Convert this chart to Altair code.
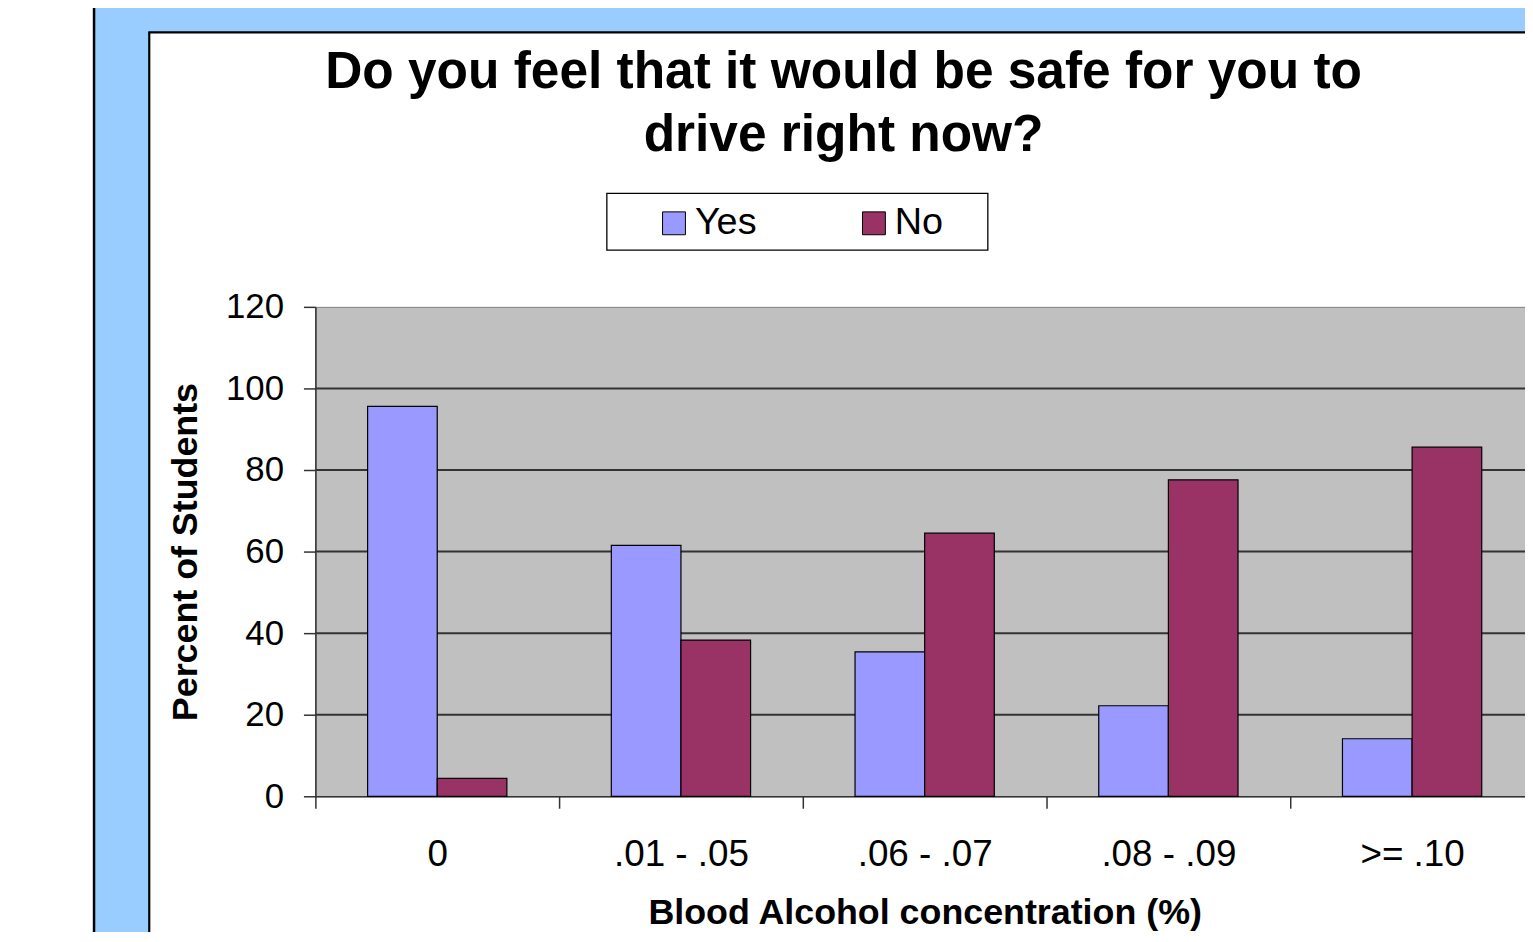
import altair as alt
import pandas as pd

# ---- data ----
CATEGORIES = ["0", ".01 - .05", ".06 - .07", ".08 - .09", ">= .10"]
SERIES = ["Yes", "No"]
YES = [95.6, 61.5, 35.4, 22.2, 14.1]
NO = [4.4, 38.3, 64.5, 77.6, 85.6]
COLORS = ["#9999FF", "#993366"]
Y_TICKS = [0, 20, 40, 60, 80, 100, 120]
GRID_VALUES = [20, 40, 60, 80, 100]
TITLE_LINES = ["Do you feel that it would be safe for you to", "drive right now?"]
X_TITLE = "Blood Alcohol concentration (%)"
Y_TITLE = "Percent of Students"

FONT = "Liberation Sans"
W, H = 1216, 492
BLUE = "#99CCFF"

rows = []
for c, y, n in zip(CATEGORIES, YES, NO):
    rows.append({"cat": c, "series": "Yes", "value": y})
    rows.append({"cat": c, "series": "No", "value": n})
df = pd.DataFrame(rows)
grid_df = pd.DataFrame({"value": GRID_VALUES})
one = alt.Data(values=[{"k": 1}])

yscale = alt.Scale(domain=[0, 120])
yaxis = alt.Axis(title=Y_TITLE, values=Y_TICKS, tickSize=12,
                 labelPadding=20, labelFontSize=35, labelFont=FONT,
                 labelColor="black", titleFont=FONT, titleFontSize=36,
                 titleFontWeight="bold", titleColor="black",
                 titlePadding=21, domainColor="#333333",
                 tickColor="#333333", domainWidth=1.5, tickWidth=1.5,
                 grid=False)

# decorative frame (slide background)
def rect(x, x2, y, y2, fill):
    return alt.Chart(one).mark_rect(fill=fill, strokeWidth=0).encode(
        x=alt.value(x), x2=alt.value(x2), y=alt.value(y), y2=alt.value(y2))

def rule(x, x2, y, y2, width):
    return alt.Chart(one).mark_rule(color="black", strokeWidth=width).encode(
        x=alt.value(x), x2=alt.value(x2), y=alt.value(y), y2=alt.value(y2))

left_strip = rect(-221.5, -167, -320, 650, BLUE)
top_strip = rect(-221.5, W + 10, -320, -276, BLUE)
outer_line = rule(-222.5, -222.5, -320, 650, 2.5)
box_left = rule(-167, -167, -276, 650, 2.2)
box_top = rule(-168, W + 10, -276, -276, 2.2)

legend_box = alt.Chart(one).mark_rect(fill="white", stroke="black", strokeWidth=1.3).encode(
    x=alt.value(293), x2=alt.value(676), y=alt.value(-114), y2=alt.value(-57))

title = alt.Chart(one).mark_text(
    font=FONT, fontSize=51.7, fontWeight="bold", align="center",
    baseline="alphabetic", lineHeight=63, color="black"
).encode(x=alt.value(531), y=alt.value(-220), text=alt.value(TITLE_LINES))

grid = alt.Chart(grid_df).mark_rule(color="#333333", strokeWidth=2).encode(
    y=alt.Y("value:Q", scale=yscale, axis=yaxis))

bars = alt.Chart(df).mark_bar(stroke="black", strokeWidth=1.2).encode(
    x=alt.X("cat:N", sort=CATEGORIES,
            scale=alt.Scale(paddingInner=0, paddingOuter=0, range=[0, 1225]),
            axis=alt.Axis(title=X_TITLE, labelAngle=0, tickBand="extent",
                          tickSize=12, labelPadding=29, labelFontSize=37,
                          labelFont=FONT, labelColor="black",
                          titleFont=FONT, titleFontSize=36, titleFontWeight="bold",
                          titleColor="black", titlePadding=23,
                          domainColor="#333333", tickColor="#333333",
                          domainWidth=1.5, tickWidth=1.5, grid=False)),
    xOffset=alt.XOffset("series:N", sort=SERIES,
                        scale=alt.Scale(paddingInner=0, paddingOuter=0.75)),
    y=alt.Y("value:Q", scale=yscale, axis=yaxis),
    color=alt.Color("series:N", sort=SERIES,
                    scale=alt.Scale(domain=SERIES, range=COLORS),
                    legend=alt.Legend(title=None, orient="none", direction="horizontal",
                                      legendX=341.5, legendY=-103, padding=0,
                                      symbolType="square", symbolSize=529,
                                      symbolStrokeColor="black", symbolStrokeWidth=1,
                                      labelFont=FONT, labelFontSize=38,
                                      labelColor="black", labelOffset=2,
                                      columnPadding=99)),
)

chart = alt.layer(
    left_strip, top_strip, outer_line, box_left, box_top,
    legend_box, title, grid, bars
).properties(
    width=W, height=H,
    autosize=alt.AutoSizeParams(type="none"),
    padding={"left": 309, "top": 298, "right": 0, "bottom": 134},
    background="white",
).configure_view(
    fill="#C0C0C0", stroke="#808080", strokeWidth=1
)

chart.save("out.html", embed_options={"renderer": "svg", "actions": False})
